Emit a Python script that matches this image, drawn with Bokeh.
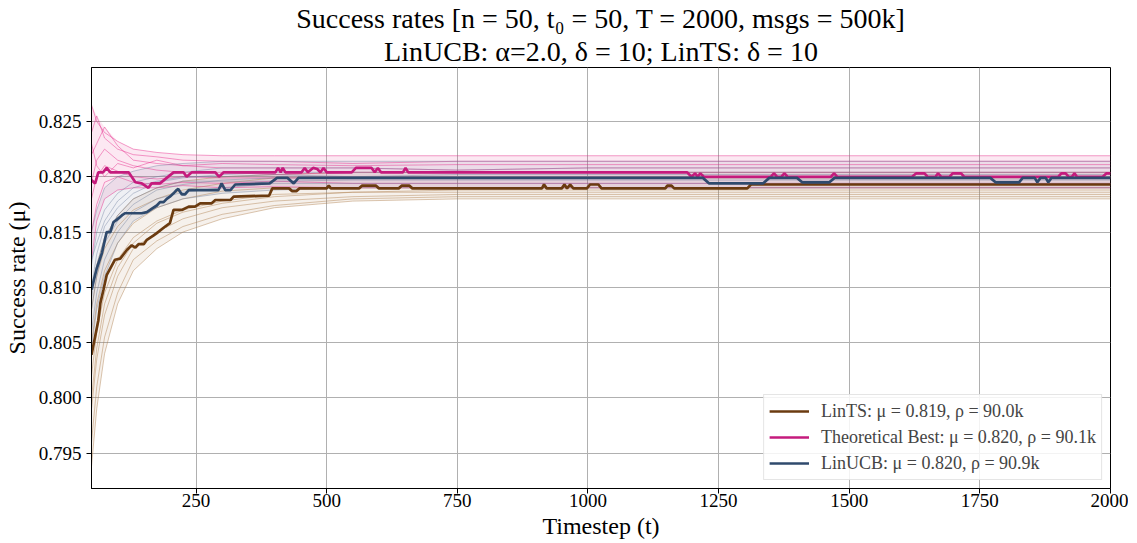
from bokeh.plotting import figure
from bokeh.models import Title, FixedTicker, NumeralTickFormatter, Range1d
from bokeh.embed import file_html
from bokeh.resources import INLINE

FONT = "Liberation Serif"

# ---------------- data ----------------
# main curves (mean success rate per algorithm)
ts_t = [50, 63, 67, 73, 79, 95, 105, 118, 127, 134, 140, 150, 156, 169, 175, 191, 200, 207, 223, 236,
        248, 258, 280, 287, 316, 322, 390, 396, 428, 434, 442, 448, 500, 504, 508, 562, 568, 594, 600,
        638, 644, 658, 664, 912, 916, 921, 950, 955, 960, 966, 972, 998, 1004, 1020, 1026, 1148, 1152,
        1160, 1165, 1305, 1312, 2000]
ts_v = [0.8039, 0.8070, 0.8086, 0.8098, 0.8111, 0.8125, 0.8126, 0.8134, 0.8138, 0.8136, 0.8139, 0.8139,
        0.8143, 0.8147, 0.8149, 0.8155, 0.8158, 0.8170, 0.8170, 0.8173, 0.8173, 0.8176, 0.8176, 0.8179,
        0.8179, 0.8182, 0.8183, 0.81895, 0.81895, 0.8187, 0.8187, 0.81895, 0.81895, 0.8192, 0.81895,
        0.81895, 0.8192, 0.8192, 0.81895, 0.81895, 0.8192, 0.8192, 0.81895, 0.81895, 0.8193, 0.81895,
        0.81895, 0.8193, 0.81895, 0.8193, 0.81895, 0.81895, 0.8193, 0.8193, 0.81895, 0.81895, 0.8192,
        0.8192, 0.81895, 0.81895, 0.8193, 0.8193]

best_t = [50, 57, 63, 72, 79, 86, 121, 134, 146, 159, 165, 181, 194, 207, 226, 232, 242, 287, 294, 303,
          402, 407, 412, 416, 421, 452, 458, 464, 474, 482, 488, 494, 500, 548, 556, 586, 592, 598, 604,
          646, 651, 656, 1190, 1198, 1205, 1210, 1215, 1222, 1350, 1356, 1362, 1370, 1376, 1382, 1465,
          1471, 1477, 1620, 1628, 1644, 1650, 1665, 1670, 1676, 1692, 1698, 1714, 1720, 1900, 1906, 1914,
          1920, 1926, 1931, 1936, 1985, 1992, 2000]
best_v = [0.8197, 0.8194, 0.8204, 0.8204, 0.8208, 0.8204, 0.8204, 0.8195, 0.8194, 0.8190, 0.8194, 0.8194,
          0.8199, 0.8204, 0.8204, 0.8200, 0.8204, 0.8204, 0.8200, 0.8204, 0.8204, 0.8208, 0.8204, 0.8208,
          0.8204, 0.8204, 0.8208, 0.8204, 0.8208, 0.8207, 0.8204, 0.8208, 0.8204, 0.8204, 0.8208, 0.8208,
          0.8204, 0.8208, 0.8204, 0.8204, 0.8208, 0.8204, 0.8204, 0.8200, 0.8203, 0.8200, 0.8203, 0.8200,
          0.8200, 0.8203, 0.8200, 0.8200, 0.8203, 0.8200, 0.8200, 0.8203, 0.8200, 0.8200, 0.8203, 0.8203,
          0.8200, 0.8200, 0.8203, 0.8200, 0.8200, 0.8203, 0.8203, 0.8200, 0.8200, 0.8203, 0.8203, 0.8200,
          0.8200, 0.8203, 0.8200, 0.8200, 0.8203, 0.8203]

ucb_t = [50, 60, 70, 79, 86, 92, 98, 108, 114, 146, 156, 165, 175, 181, 188, 194, 200, 207, 213, 216,
         223, 229, 236, 293, 299, 306, 316, 325, 391, 405, 425, 437, 446, 1220, 1232, 1335, 1347, 1400,
         1410, 1462, 1472, 1770, 1780, 1825, 1832, 1855, 1860, 1866, 1876, 1881, 1887, 2000]
ucb_v = [0.8098, 0.8117, 0.8131, 0.8150, 0.8150, 0.8159, 0.8161, 0.8165, 0.8167, 0.8167, 0.8168, 0.8171,
         0.8174, 0.8177, 0.8177, 0.8180, 0.8182, 0.8185, 0.8188, 0.8189, 0.8184, 0.8184, 0.8188, 0.8188,
         0.8194, 0.8188, 0.8188, 0.8193, 0.8194, 0.8199, 0.8199, 0.8194, 0.8199, 0.8199, 0.8194, 0.8194,
         0.8199, 0.8199, 0.8195, 0.8195, 0.8199, 0.8199, 0.8195, 0.8195, 0.8199, 0.8199, 0.8195, 0.8199,
         0.8199, 0.8195, 0.8199, 0.8199]

# individual runs (faint), sampled at these timesteps
run_t = [50, 60, 75, 100, 130, 175, 225, 300, 400, 550, 750, 1000, 1500, 2000]

best_runs = [
    [0.8265, 0.8250, 0.8240, 0.8232, 0.8225, 0.8222, 0.8220, 0.8219, 0.8219, 0.8219, 0.8219, 0.8219, 0.8219, 0.8219],
    [0.8240, 0.8255, 0.8235, 0.8225, 0.8220, 0.8218, 0.8215, 0.8214, 0.8214, 0.8212, 0.8214, 0.8214, 0.8214, 0.8214],
    [0.8220, 0.8230, 0.8245, 0.8228, 0.8215, 0.8212, 0.8210, 0.8208, 0.8208, 0.8208, 0.8206, 0.8208, 0.8208, 0.8208],
    [0.8195, 0.8215, 0.8225, 0.8215, 0.8210, 0.8206, 0.8204, 0.8204, 0.8202, 0.8204, 0.8204, 0.8204, 0.8204, 0.8204],
    [0.8180, 0.8200, 0.8210, 0.8205, 0.8200, 0.8198, 0.8200, 0.8199, 0.8199, 0.8199, 0.8199, 0.8199, 0.8199, 0.8199],
    [0.8150, 0.8175, 0.8195, 0.8200, 0.8195, 0.8193, 0.8195, 0.8194, 0.8196, 0.8194, 0.8194, 0.8194, 0.8194, 0.8194],
    [0.8125, 0.8160, 0.8180, 0.8188, 0.8190, 0.8190, 0.8192, 0.8190, 0.8191, 0.8190, 0.8190, 0.8190, 0.8190, 0.8190],
    [0.8230, 0.8210, 0.8200, 0.8212, 0.8208, 0.8215, 0.8210, 0.8212, 0.8211, 0.8210, 0.8211, 0.8211, 0.8211, 0.8211],
]
ucb_runs = [
    [0.8150, 0.8170, 0.8190, 0.8200, 0.8205, 0.8210, 0.8212, 0.8214, 0.8214, 0.8214, 0.8214, 0.8214, 0.8214, 0.8214],
    [0.8120, 0.8150, 0.8170, 0.8185, 0.8195, 0.8200, 0.8204, 0.8208, 0.8208, 0.8208, 0.8206, 0.8208, 0.8208, 0.8208],
    [0.8100, 0.8130, 0.8155, 0.8172, 0.8185, 0.8195, 0.8199, 0.8202, 0.8204, 0.8204, 0.8204, 0.8204, 0.8204, 0.8204],
    [0.8080, 0.8110, 0.8140, 0.8160, 0.8175, 0.8188, 0.8193, 0.8197, 0.8199, 0.8199, 0.8199, 0.8199, 0.8199, 0.8199],
    [0.8060, 0.8095, 0.8125, 0.8150, 0.8168, 0.8180, 0.8186, 0.8190, 0.8194, 0.8194, 0.8194, 0.8194, 0.8194, 0.8194],
    [0.8045, 0.8080, 0.8110, 0.8140, 0.8160, 0.8172, 0.8180, 0.8185, 0.8188, 0.8190, 0.8190, 0.8190, 0.8190, 0.8190],
    [0.8125, 0.8140, 0.8160, 0.8178, 0.8190, 0.8196, 0.8200, 0.8200, 0.8202, 0.8200, 0.8202, 0.8202, 0.8202, 0.8202],
    [0.8090, 0.8120, 0.8145, 0.8165, 0.8180, 0.8190, 0.8196, 0.8196, 0.8196, 0.8197, 0.8197, 0.8197, 0.8197, 0.8197],
]
ts_runs = [
    [0.8080, 0.8110, 0.8135, 0.8155, 0.8170, 0.8180, 0.8188, 0.8194, 0.8199, 0.8199, 0.8199, 0.8199, 0.8199, 0.8199],
    [0.8050, 0.8085, 0.8115, 0.8140, 0.8158, 0.8172, 0.8180, 0.8187, 0.8190, 0.8190, 0.8190, 0.8190, 0.8190, 0.8190],
    [0.8020, 0.8060, 0.8095, 0.8125, 0.8145, 0.8160, 0.8170, 0.8178, 0.8184, 0.8186, 0.8186, 0.8186, 0.8186, 0.8186],
    [0.7990, 0.8035, 0.8075, 0.8110, 0.8135, 0.8150, 0.8162, 0.8172, 0.8178, 0.8182, 0.8184, 0.8184, 0.8184, 0.8184],
    [0.7960, 0.8010, 0.8055, 0.8095, 0.8125, 0.8142, 0.8155, 0.8166, 0.8174, 0.8180, 0.8182, 0.8182, 0.8182, 0.8182],
    [0.7938, 0.7990, 0.8040, 0.8085, 0.8115, 0.8135, 0.8150, 0.8162, 0.8172, 0.8178, 0.8180, 0.8180, 0.8180, 0.8180],
    [0.8100, 0.8120, 0.8145, 0.8165, 0.8180, 0.8190, 0.8196, 0.8200, 0.8202, 0.8204, 0.8204, 0.8204, 0.8204, 0.8204],
    [0.8000, 0.8045, 0.8085, 0.8118, 0.8140, 0.8158, 0.8168, 0.8176, 0.8182, 0.8186, 0.8188, 0.8188, 0.8188, 0.8188],
]

labels = ["LinTS: μ = 0.819, ρ = 90.0k",
          "Theoretical Best: μ = 0.820, ρ = 90.1k",
          "LinUCB: μ = 0.820, ρ = 90.9k"]
x_ticks = [250, 500, 750, 1000, 1250, 1500, 1750, 2000]
y_ticks = [0.795, 0.800, 0.805, 0.810, 0.815, 0.820, 0.825]

# ---------------- styles ----------------
C_TS, C_BEST, C_UCB = "#6b3b10", "#c51b7d", "#2f4a6d"
F_TS, F_BEST, F_UCB = "#b08050", "#e7298a", "#6a7a9a"

p = figure(frame_width=1019, frame_height=421,
           min_border_left=81, min_border_right=18, min_border_top=59, min_border_bottom=40,
           x_range=Range1d(50, 2000), y_range=Range1d(0.79181, 0.82988),
           output_backend="svg", toolbar_location=None, title=None)

p.add_layout(Title(text="LinUCB: α=2.0, δ = 10; LinTS: δ = 10", align="center",
                   text_font=FONT, text_font_size="28px", text_font_style="normal",
                   text_color="black", standoff=1), "above")
p.add_layout(Title(text="Success rates [n = 50, t₀ = 50, T = 2000, msgs = 500k]", align="center",
                   text_font=FONT, text_font_size="28px", text_font_style="normal",
                   text_color="black", standoff=0), "above")

# bands (envelope of the runs)
def envelope(runs):
    lo = [min(r[i] for r in runs) for i in range(len(run_t))]
    hi = [max(r[i] for r in runs) for i in range(len(run_t))]
    return lo, hi

for runs, col in [(ts_runs, F_TS), (best_runs, F_BEST), (ucb_runs, F_UCB)]:
    lo, hi = envelope(runs)
    p.varea(x=run_t, y1=lo, y2=hi, fill_color=col, fill_alpha=0.11)

for runs, col, a in [(ts_runs, F_TS, 0.45), (best_runs, F_BEST, 0.45), (ucb_runs, F_UCB, 0.4)]:
    for r in runs:
        p.line(run_t, r, line_color=col, line_width=1, line_alpha=a)

p.line(ts_t, ts_v, line_color=C_TS, line_width=2.7, legend_label=labels[0])
p.line(best_t, best_v, line_color=C_BEST, line_width=2.7, legend_label=labels[1])
p.line(ucb_t, ucb_v, line_color=C_UCB, line_width=2.7, legend_label=labels[2])

# axes
for ax in (p.xaxis[0], p.yaxis[0]):
    ax.major_label_text_font = FONT
    ax.major_label_text_font_size = "19px"
    ax.major_label_text_color = "black"
    ax.axis_label_text_font = FONT
    ax.axis_label_text_font_size = "24px"
    ax.axis_label_text_font_style = "normal"
    ax.axis_label_text_color = "black"
    ax.axis_line_color = "black"
    ax.major_tick_line_color = "black"
    ax.major_tick_out = 5
    ax.major_tick_in = 0
    ax.minor_tick_line_color = None

p.xaxis[0].axis_label = "Timestep (t)"
p.yaxis[0].axis_label = "Success rate (μ)"
p.xaxis[0].ticker = FixedTicker(ticks=x_ticks)
p.yaxis[0].ticker = FixedTicker(ticks=y_ticks)
p.xaxis[0].formatter = NumeralTickFormatter(format="0")
p.yaxis[0].formatter = NumeralTickFormatter(format="0.000")
p.xaxis[0].major_label_standoff = 0
p.xaxis[0].axis_label_standoff = 3
p.yaxis[0].axis_label_standoff = 6

p.xgrid.grid_line_color = "#b0b0b0"
p.ygrid.grid_line_color = "#b0b0b0"
p.xgrid.grid_line_width = 1
p.ygrid.grid_line_width = 1

p.outline_line_color = "black"
p.outline_line_width = 1
p.background_fill_color = "white"
p.border_fill_color = "white"

lg = p.legend[0]
lg.location = "bottom_right"
lg.label_text_font = FONT
lg.label_text_font_size = "18px"
lg.glyph_width = 40
lg.glyph_height = 22
lg.label_standoff = 12
lg.spacing = 4
lg.padding = 5
lg.margin = 8
lg.border_line_color = "#cccccc"
lg.border_line_width = 1
lg.background_fill_alpha = 0.85

open("out.html", "w").write(file_html(p, INLINE))
